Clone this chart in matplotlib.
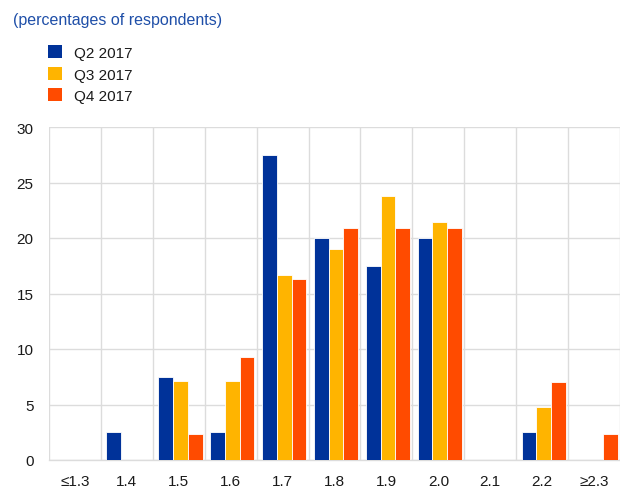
import matplotlib
matplotlib.use("Agg")
import matplotlib.pyplot as plt
import numpy as np

plt.rcParams['font.family'] = ['Liberation Sans', 'DejaVu Sans']

categories = ["≤1.3", "1.4", "1.5", "1.6", "1.7", "1.8", "1.9", "2.0", "2.1", "2.2", "≥2.3"]
q2_2017 = [0, 2.5, 7.5, 2.5, 27.5, 20.0, 17.5, 20.0, 0, 2.5, 0]
q3_2017 = [0, 0, 7.1, 7.1, 16.7, 19.0, 23.8, 21.4, 0, 4.8, 0]
q4_2017 = [0, 0, 2.3, 9.3, 16.3, 20.9, 20.9, 20.9, 0, 7.0, 2.3]
series_labels = ["Q2 2017", "Q3 2017", "Q4 2017"]
colors = ["#003299", "#FFB400", "#FF4B00"]
yticks = [0, 5, 10, 15, 20, 25, 30]

fig = plt.figure(figsize=(6.2, 5.02), dpi=100)
ax = fig.add_axes([49/620, 1 - 461/502, 571/620, (461 - 128)/502])

x = np.arange(len(categories))
w = 0.285
offset = 0.03
for i, (vals, lab, col) in enumerate(zip([q2_2017, q3_2017, q4_2017], series_labels, colors)):
    ax.bar(x + offset + (i - 1) * w, vals, width=w, color=col, label=lab,
           edgecolor='white', linewidth=0.6, zorder=3)

ax.set_xlim(-0.5, len(categories) - 0.5)
ax.set_ylim(0, 30)
ax.set_yticks(yticks)
ax.set_xticks(x)
ax.set_xticklabels(categories)
ax.set_xticks(np.arange(-0.5, len(categories) - 0.4, 1.0), minor=True)
ax.grid(axis='y', which='major', color='#DCDCDC', linewidth=1.0, zorder=0)
ax.grid(axis='x', which='minor', color='#DCDCDC', linewidth=1.0, zorder=0)
ax.grid(axis='x', which='major', visible=False)
for s in ['top', 'right', 'left']:
    ax.spines[s].set_visible(False)
ax.spines['bottom'].set_color('#DCDCDC')
ax.spines['bottom'].set_linewidth(1.0)
ax.tick_params(axis='both', which='both', length=0, labelsize=11, labelcolor='#1a1a1a')
ax.tick_params(axis='y', pad=11)
ax.tick_params(axis='x', pad=10)

fig.text(13/620, 1 - 20/502, "(percentages of respondents)", color='#1F4FA8',
         fontsize=11.5, va='center', ha='left')

leg = fig.legend(loc='upper left', bbox_to_anchor=(36/620, 1 - 34/502), frameon=False,
                 fontsize=11, handlelength=0.92, handleheight=0.92, handletextpad=0.78,
                 labelspacing=0.45, borderpad=0.3, borderaxespad=0.5)
for t in leg.get_texts():
    t.set_color('#1a1a1a')
for h in leg.legend_handles:
    h.set_linewidth(0)

fig.savefig("out.png", dpi=100)
